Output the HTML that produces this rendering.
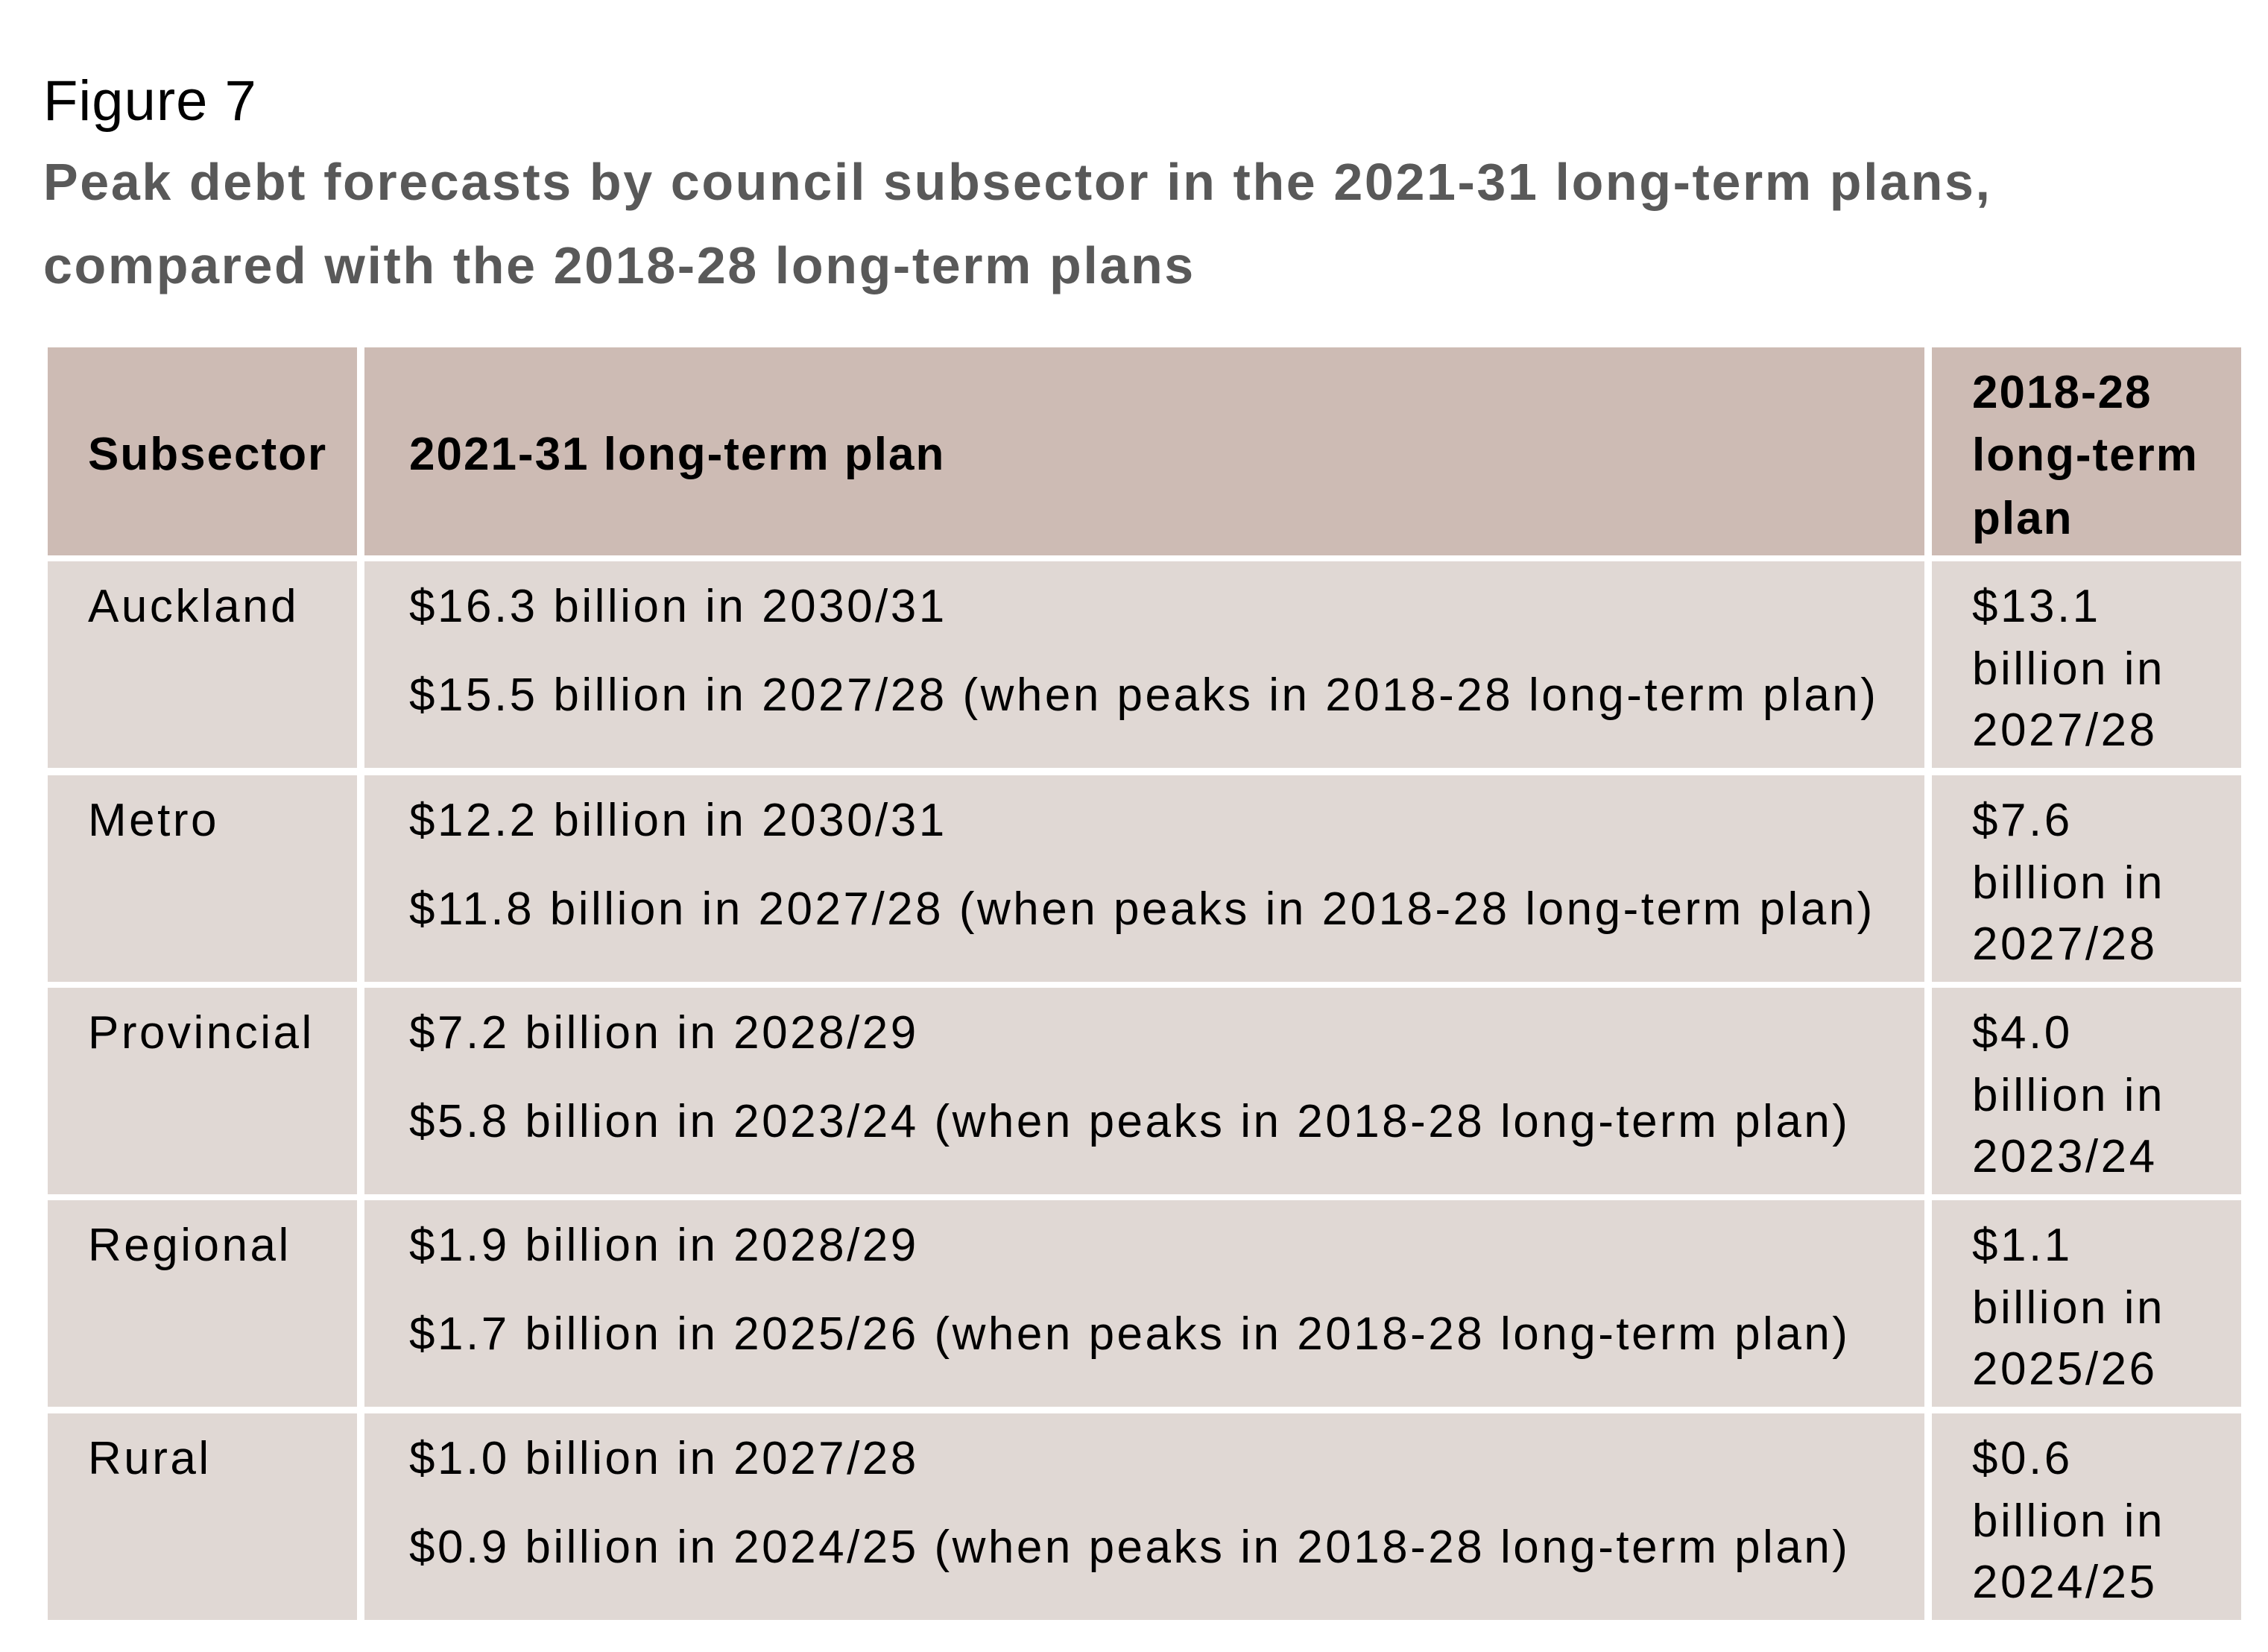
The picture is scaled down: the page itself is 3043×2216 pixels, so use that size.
<!DOCTYPE html>
<html><head><meta charset="utf-8"><style>
html,body{margin:0;padding:0;background:#fff;}
body{width:3043px;height:2216px;position:relative;overflow:hidden;font-family:"Liberation Sans",sans-serif;color:#000;}
.t{position:absolute;white-space:nowrap;line-height:84px;font-size:62px;letter-spacing:3.5px;}
.cell{position:absolute;}
.h{background:#cdbbb4;}
.b{background:#e0d8d4;}
.bold{font-weight:bold;letter-spacing:2px;}
</style></head><body>
<div class="t" style="left:58px;top:94px;font-size:76px;letter-spacing:1px;">Figure 7</div>
<div class="t bold" style="left:58px;top:188px;font-size:70px;letter-spacing:2.6px;color:#595959;line-height:112px;">Peak debt forecasts by council subsector in the 2021-31 long-term plans,<br>compared with the 2018-28 long-term plans</div>
<div id="tbl"></div>
<script>
var subsectors=["Auckland","Metro","Provincial","Regional","Rural"];
var lineA=["$16.3 billion in 2030/31","$12.2 billion in 2030/31","$7.2 billion in 2028/29","$1.9 billion in 2028/29","$1.0 billion in 2027/28"];
var lineB=["$15.5 billion in 2027/28 (when peaks in 2018-28 long-term plan)","$11.8 billion in 2027/28 (when peaks in 2018-28 long-term plan)","$5.8 billion in 2023/24 (when peaks in 2018-28 long-term plan)","$1.7 billion in 2025/26 (when peaks in 2018-28 long-term plan)","$0.9 billion in 2024/25 (when peaks in 2018-28 long-term plan)"];
var prevVal=["$13.1","$7.6","$4.0","$1.1","$0.6"];
var prevYear=["2027/28","2027/28","2023/24","2025/26","2024/25"];
var tbl=document.getElementById('tbl');
var cols=[[64,479],[489,2582],[2592,3007]];
var rowTops=[753,1040,1325,1610,1896];
var rowH=277;
function cell(x0,x1,y,h,cls,name){
  var d=document.createElement('div');
  d.className='cell '+cls;
  d.style.left=x0+'px';d.style.top=y+'px';d.style.width=(x1-x0)+'px';d.style.height=h+'px';
  
  
  tbl.appendChild(d);return d;
}
function txt(x,cy,s,bold,name){
  var d=document.createElement('div');
  d.className='t'+(bold?' bold':'');
  d.style.left=x+'px';d.style.top=(cy-40)+'px';
  d.textContent=s;
  
  
  tbl.appendChild(d);
}
cell(cols[0][0],cols[0][1],466,279,'h','header-subsector-cell');
cell(cols[1][0],cols[1][1],466,279,'h','header-2021-cell');
cell(cols[2][0],cols[2][1],466,279,'h','header-2018-cell');
txt(118,608,'Subsector',true,'header-subsector');
txt(549,608,'2021-31 long-term plan',true,'header-2021-31');
txt(2646,525,'2018-28',true,'header-2018-28-line1');
txt(2646,609,'long-term',true,'header-2018-28-line2');
txt(2646,694,'plan',true,'header-2018-28-line3');
for(var i=0;i<subsectors.length;i++){
  var y=rowTops[i];
  cell(cols[0][0],cols[0][1],y,rowH,'b','row-subsector-cell');
  cell(cols[1][0],cols[1][1],y,rowH,'b','row-2021-cell');
  cell(cols[2][0],cols[2][1],y,rowH,'b','row-2018-cell');
  txt(118,y+59,subsectors[i],false,'subsector-name');
  txt(549,y+59,lineA[i],false,'peak-2021-31');
  txt(549,y+178,lineB[i],false,'value-at-2018-peak');
  txt(2646,y+59,prevVal[i],false,'peak-2018-28-value');
  txt(2646,y+143,'billion in',false,'peak-2018-28-unit');
  txt(2646,y+225,prevYear[i],false,'peak-2018-28-year');
}
</script>
</body></html>
